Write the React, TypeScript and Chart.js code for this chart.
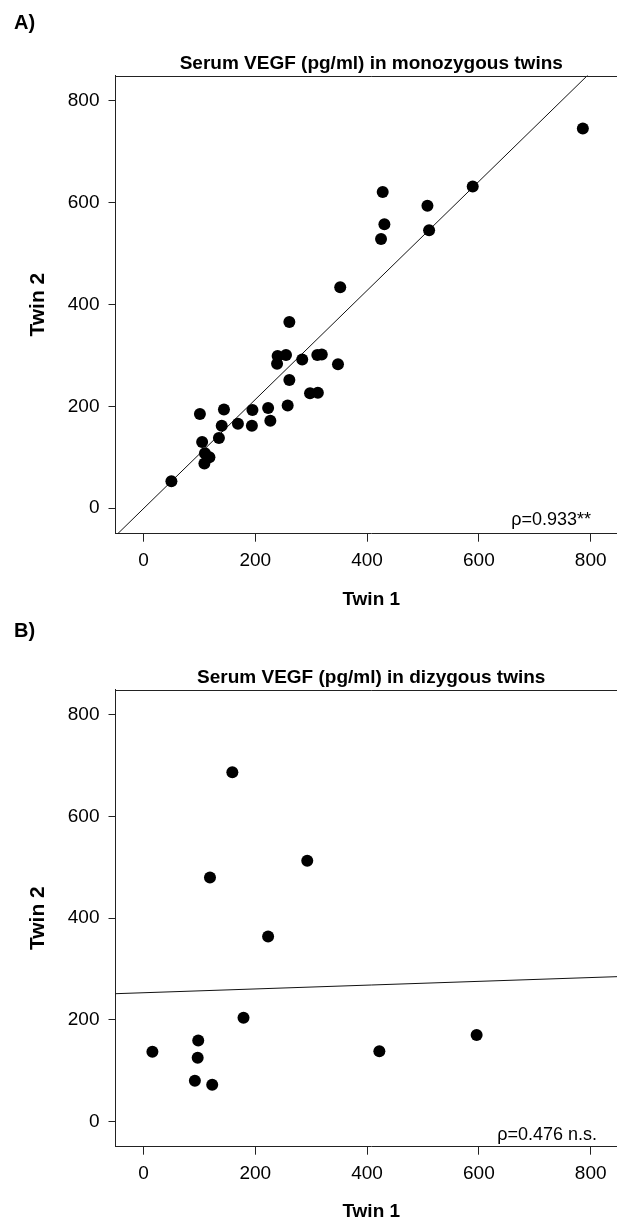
import React, { useEffect, useRef } from "react";
import { Chart, registerables } from "chart.js";

Chart.register(...registerables);

// ---- data ----
const MZ_TWIN1 = [352, 261, 240, 255, 239, 284, 311, 319, 348, 261, 298, 312, 258, 101, 144, 195, 223, 140, 169, 194, 227, 135, 105, 110, 118, 109, 50, 786, 589, 428, 508, 431, 425, 511];
const MZ_TWIN2 = [434, 366, 299, 301, 284, 292, 301, 302, 283, 252, 226, 227, 202, 185, 194, 193, 197, 162, 166, 162, 172, 138, 130, 108, 100, 88, 53, 746, 632, 621, 594, 558, 529, 546];
const MZ_LINE_X = [-50, 865];
const MZ_LINE_Y = [-54.3, 925.8];

const DZ_TWIN1 = [159, 293, 119, 223, 179, 98, 16, 97, 92, 123, 422, 596];
const DZ_TWIN2 = [687, 513, 480, 364, 204, 159, 137, 125, 80, 72, 138, 170];
const DZ_LINE_X = [-50, 865];
const DZ_LINE_Y = [251.2, 285.4];

const AXIS_TICKS = [0, 200, 400, 600, 800];
const AXIS_MIN = -50;
const X_MAX = 865;
const Y_MAX = 850;

const FONT = "'Liberation Sans', Arial, Helvetica, sans-serif";
const CANVAS_W = 640;

type PanelProps = {
  top: number;
  height: number;
  areaTop: number;
  areaBottom: number;
  label: string;
  labelBaseline: number;
  title: string;
  titleBaseline: number;
  rho: string;
  rhoRight: number;
  rhoBaseline: number;
  xs: number[];
  ys: number[];
  lineX: number[];
  lineY: number[];
  xTitlePad: number;
};

function Panel(p: PanelProps) {
  const ref = useRef<HTMLCanvasElement | null>(null);
  useEffect(() => {
    if (!ref.current) return;
    const textPlugin = {
      id: "panelText",
      afterDraw(chart: any) {
        const ctx = chart.ctx;
        const a = chart.chartArea;
        ctx.save();
        // plot box (top and right sides)
        ctx.strokeStyle = "#222";
        ctx.lineWidth = 1;
        ctx.beginPath();
        ctx.moveTo(a.left, Math.round(a.top) + 0.5);
        ctx.lineTo(a.right, Math.round(a.top) + 0.5);
        ctx.lineTo(a.right, a.bottom);
        ctx.stroke();
        ctx.fillStyle = "#000";
        ctx.textBaseline = "alphabetic";
        ctx.font = `bold 20px ${FONT}`;
        ctx.textAlign = "left";
        ctx.fillText(p.label, 14, p.labelBaseline);
        ctx.font = `bold 19px ${FONT}`;
        ctx.textAlign = "center";
        ctx.fillText(p.title, (a.left + a.right) / 2, p.titleBaseline);
        ctx.font = `18px ${FONT}`;
        ctx.textAlign = "right";
        ctx.fillText(p.rho, p.rhoRight, p.rhoBaseline);
        ctx.restore();
      },
    };
    const chart = new Chart(ref.current, {
      type: "scatter",
      data: {
        datasets: [
          {
            type: "line",
            data: p.lineX.map((x, i) => ({ x, y: p.lineY[i] })),
            borderColor: "#111",
            borderWidth: 1,
            pointRadius: 0,
            fill: false,
            order: 2,
          } as any,
          {
            data: p.xs.map((x, i) => ({ x, y: p.ys[i] })),
            backgroundColor: "#000",
            borderColor: "#000",
            borderWidth: 0,
            pointRadius: 6,
            pointHoverRadius: 6,
            order: 1,
          },
        ],
      },
      options: {
        animation: false,
        responsive: false,
        maintainAspectRatio: false,
        events: [],
        layout: { padding: { top: p.areaTop, left: 0, right: CANVAS_W - 627, bottom: 0 } },
        plugins: { legend: { display: false }, tooltip: { enabled: false }, title: { display: false } },
        scales: {
          x: {
            type: "linear",
            min: AXIS_MIN,
            max: X_MAX,
            afterBuildTicks: (s: any) => {
              s.ticks = AXIS_TICKS.map((v) => ({ value: v }));
            },
            afterFit: (s: any) => {
              s.height = p.height - p.areaBottom;
            },
            ticks: { font: { family: FONT, size: 19 }, color: "#000", padding: 8, maxRotation: 0 },
            grid: { drawOnChartArea: false, drawTicks: true, tickLength: 8, tickColor: "#222", tickWidth: 1 },
            border: { display: true, color: "#222", width: 1 },
            title: {
              display: true,
              text: "Twin 1",
              color: "#000",
              font: { family: FONT, size: 19, weight: "bold" },
              padding: { top: 0, bottom: p.xTitlePad },
            },
          },
          y: {
            type: "linear",
            min: AXIS_MIN,
            max: Y_MAX,
            afterBuildTicks: (s: any) => {
              s.ticks = AXIS_TICKS.map((v) => ({ value: v }));
            },
            afterFit: (s: any) => {
              s.width = 115.5;
            },
            ticks: { font: { family: FONT, size: 19 }, color: "#000", padding: 9 },
            grid: { drawOnChartArea: false, drawTicks: true, tickLength: 7, tickColor: "#222", tickWidth: 1 },
            border: { display: true, color: "#222", width: 1 },
            title: {
              display: true,
              text: "Twin 2",
              color: "#000",
              font: { family: FONT, size: 21, weight: "bold" },
              padding: { top: 26, bottom: 0 },
            },
          },
        },
      } as any,
      plugins: [textPlugin],
    });
    return () => chart.destroy();
  }, []);
  return (
    <canvas
      ref={ref}
      width={CANVAS_W}
      height={p.height}
      style={{ position: "absolute", left: 0, top: p.top, width: CANVAS_W, height: p.height }}
    />
  );
}

export default function App() {
  return (
    <div
      style={{
        position: "absolute",
        left: 0,
        top: 0,
        width: 617,
        height: 1221,
        overflow: "hidden",
        background: "#fff",
      }}
    >
      <Panel
        top={0}
        height={625}
        areaTop={75.5}
        areaBottom={533.7}
        label="A)"
        labelBaseline={29}
        title="Serum VEGF (pg/ml) in monozygous twins"
        titleBaseline={68.5}
        rho="ρ=0.933**"
        rhoRight={591}
        rhoBaseline={524.5}
        xs={MZ_TWIN1}
        ys={MZ_TWIN2}
        lineX={MZ_LINE_X}
        lineY={MZ_LINE_Y}
        xTitlePad={13.6}
      />
      <Panel
        top={600}
        height={635}
        areaTop={89.5}
        areaBottom={546.7}
        label="B)"
        labelBaseline={36.7}
        title="Serum VEGF (pg/ml) in dizygous twins"
        titleBaseline={82.8}
        rho="ρ=0.476 n.s."
        rhoRight={597}
        rhoBaseline={539.8}
        xs={DZ_TWIN1}
        ys={DZ_TWIN2}
        lineX={DZ_LINE_X}
        lineY={DZ_LINE_Y}
        xTitlePad={11.6}
      />
    </div>
  );
}
